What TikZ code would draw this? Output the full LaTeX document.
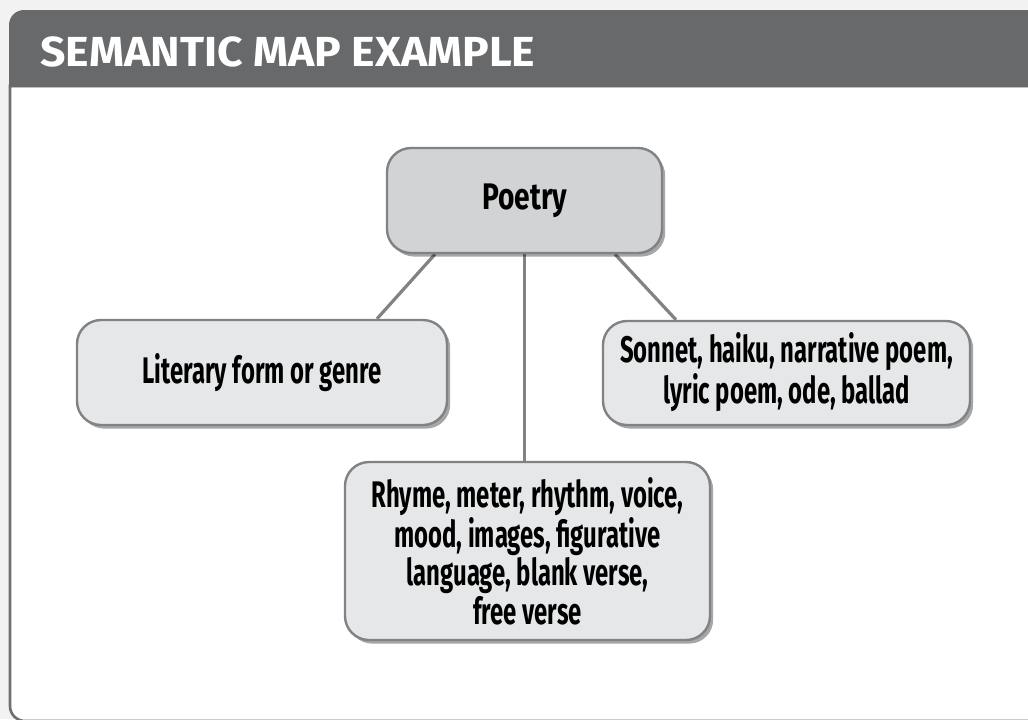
\documentclass[tikz,border=0pt]{standalone}
\usepackage{fontspec}
\setmainfont{Fira Sans}
\newfontfamily\boxfont[FakeStretch=0.645]{Fira Sans}
\newfontfamily\rootfont[FakeStretch=0.76]{Fira Sans}
\newfontfamily\headfont[FakeStretch=1.06]{Fira Sans}
\usetikzlibrary{calc,shadows}
\definecolor{headgray}{RGB}{104,105,107}
\definecolor{bordergray}{RGB}{128,130,133}
\definecolor{panelgray}{RGB}{110,111,114}
\definecolor{poetryfill}{RGB}{209,211,212}
\definecolor{childfill}{RGB}{230,231,232}
\definecolor{outsidebg}{RGB}{242,242,242}
\pgfdeclarelayer{back}
\pgfdeclarelayer{links}
\pgfsetlayers{back,links,main}
\tikzset{
  mapbox/.style={draw=bordergray, line width=1.2pt, rounded corners=12pt,
    align=center, font=\boxfont\bfseries\fontsize{18.5}{17.5}\selectfont,
    drop shadow={shadow xshift=1.6pt, shadow yshift=-1.8pt, fill=black, opacity=0.35},
    inner sep=0pt},
  rootbox/.style={mapbox, fill=poetryfill, font=\rootfont\bfseries\fontsize{18.5}{17.5}\selectfont},
  childbox/.style={mapbox, fill=childfill},
  link/.style={draw=bordergray, line width=1.6pt}
}
\begin{document}
\begin{tikzpicture}[x=0.5pt, y=-0.5pt]
\useasboundingbox (0,0) rectangle (1028,719);
\begin{pgfonlayer}{back}
  \fill[outsidebg] (0,0) rectangle (1028,719);
  \fill[white, draw=panelgray, line width=1.3pt]
    (10,86) -- (10,706) arc[start angle=180, end angle=270, radius=7.5pt] -- (1040,721) -- (1040,86) -- cycle;
  \fill[headgray] (9,87) -- (9,25) arc[start angle=180, end angle=90, radius=7.5pt] -- (1040,10) -- (1040,87) -- cycle;
\end{pgfonlayer}
\node[anchor=base west, text=white, inner sep=0pt, font=\headfont\bfseries\fontsize{21}{22}\selectfont] (title) at (40,66) {SEMANTIC MAP EXAMPLE};

\node[rootbox, minimum width=137.5pt, minimum height=52.5pt] (poetry) at (524.5,200.5) {Poetry};
\node[childbox, minimum width=185pt, minimum height=52.5pt] (literary) at (262,372.5) {Literary form or genre};
\node[childbox, minimum width=183.5pt, minimum height=52pt] (sonnet) at (786.5,373) {\raisebox{-2pt}{\begin{tabular}{@{}c@{}}Sonnet, haiku, narrative poem,\\lyric poem, ode, ballad\end{tabular}}};
\node[childbox, minimum width=182.5pt, minimum height=89pt] (rhyme) at (527.5,551) {Rhyme, meter, rhythm, voice,\\mood, images, figurative\\language, blank verse,\\free verse};

\begin{pgfonlayer}{links}
  \draw[link] ($(poetry.south)+(-89.5,0)$) -- ($(literary.north)+(115,0)$);
  \draw[link] (poetry.south) -- (poetry.south |- rhyme.north);
  \draw[link] ($(poetry.south)+(90.5,0)$) -- ($(sonnet.north)+(-110.5,0)$);
\end{pgfonlayer}
\end{tikzpicture}
\end{document}
